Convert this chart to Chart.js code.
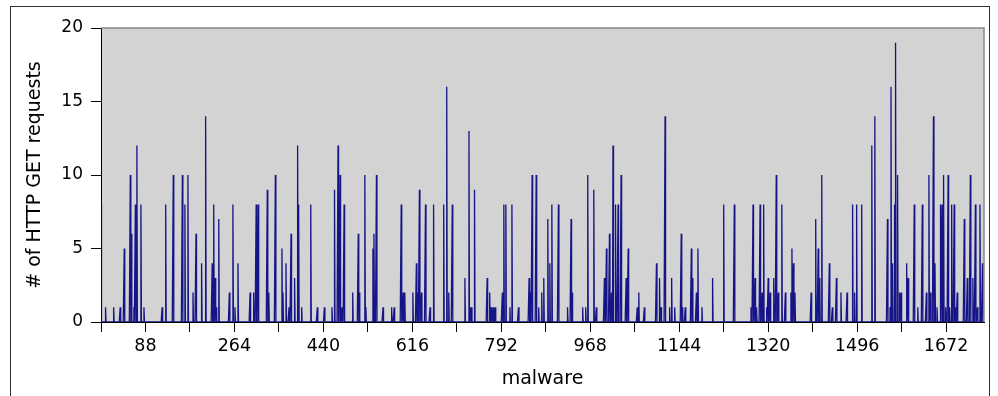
<!DOCTYPE html>
<html>
<head>
<meta charset="utf-8">
<script src="https://cdn.jsdelivr.net/npm/chart.js@4/dist/chart.umd.min.js"></script>
<style>
html,body{margin:0;padding:0;background:#fff;}
#c{display:block;}
</style>
</head>
<body>
<canvas id="c" width="998" height="396"></canvas>
<script>
// number of malware samples (x runs 0 .. N-1)
const sampleCount = 1748;
// sparse spikes: sample index and # of HTTP GET requests (all others are 0)
const spikeIndex = [0,9,25,38,46,58,60,65,68,71,79,85,121,128,143,161,166,172,182,188,199,207,220,223,226,228,233,254,261,265,271,295,302,307,311,329,332,345,358,360,366,372,376,383,389,391,397,415,428,442,457,462,469,473,477,481,498,509,511,522,524,538,540,545,558,575,580,594,598,601,617,624,626,630,634,642,651,658,678,684,688,695,720,728,731,733,739,764,769,772,776,780,794,797,801,809,813,826,847,850,853,861,866,872,876,884,888,892,905,923,930,932,953,959,963,975,980,996,1000,1006,1010,1013,1018,1023,1029,1039,1043,1061,1064,1075,1099,1105,1108,1116,1125,1129,1135,1148,1150,1156,1168,1170,1178,1181,1189,1210,1232,1253,1286,1290,1294,1297,1304,1308,1311,1317,1320,1324,1331,1336,1340,1347,1354,1365,1367,1370,1373,1405,1414,1419,1422,1426,1441,1447,1455,1464,1476,1487,1491,1495,1505,1525,1531,1556,1561,1563,1566,1570,1572,1576,1580,1583,1594,1597,1609,1616,1625,1633,1638,1641,1647,1650,1654,1661,1664,1667,1671,1676,1679,1683,1688,1691,1694,1708,1714,1720,1725,1730,1734,1739,1744];
const spikeValue = [8,1,1,1,5,10,6,1,8,12,8,1,1,8,10,10,8,10,2,6,4,14,4,8,3,1,7,2,8,1,4,2,2,8,8,9,2,10,5,2,4,1,6,3,12,8,1,8,1,1,1,9,12,10,1,8,2,6,2,10,1,5,6,10,1,1,1,8,2,2,2,4,2,9,2,8,1,8,8,16,2,8,3,13,1,1,9,3,2,1,1,1,2,8,8,1,8,1,3,2,10,10,1,2,3,7,4,8,8,1,7,2,1,1,10,9,1,3,5,6,2,12,8,8,10,3,5,1,2,1,4,3,1,14,1,3,1,6,1,1,5,3,2,5,1,3,8,8,1,8,3,1,8,2,8,1,3,2,3,10,2,8,2,2,5,4,2,2,7,5,3,10,4,1,3,2,2,8,2,8,8,12,14,7,1,16,4,8,19,10,2,2,4,3,8,1,8,2,10,2,14,4,1,8,8,10,1,10,1,8,8,1,2,7,3,10,3,8,1,8,4];
// axis settings
const xTickStep = 88;
const yTicks = [0,5,10,15,20];
const xTitle = 'malware';
const yTitle = '# of HTTP GET requests';

const points = [];
const vals = new Array(sampleCount).fill(0);
spikeIndex.forEach((ix, k) => { vals[ix] = spikeValue[k]; });
vals.forEach((v, i) => points.push({x: i, y: v}));

const bgPlugin = {
  id: 'bg',
  beforeDraw(chart) {
    const {ctx, chartArea: a} = chart;
    ctx.save();
    ctx.fillStyle = '#fff';
    ctx.fillRect(0, 0, chart.width, chart.height);
    ctx.strokeStyle = '#333';
    ctx.lineWidth = 1;
    ctx.strokeRect(10.5, 6.5, 979, 400);
    ctx.fillStyle = '#d3d3d3';
    ctx.fillRect(a.left, a.top, a.right - a.left, a.bottom - a.top);
    ctx.restore();
  },
  afterDraw(chart) {
    const {ctx, chartArea: a} = chart;
    ctx.save();
    ctx.strokeStyle = '#888';
    ctx.lineWidth = 1.5;
    ctx.beginPath();
    ctx.moveTo(a.left, a.top);
    ctx.lineTo(a.right, a.top);
    ctx.lineTo(a.right, a.bottom);
    ctx.stroke();
    ctx.restore();
  }
};

new Chart(document.getElementById('c'), {
  type: 'line',
  data: {
    datasets: [{
      data: points,
      borderColor: 'rgba(0,0,128,0.9)',
      borderWidth: 1.3,
      pointRadius: 0,
      tension: 0,
      fill: false
    }]
  },
  options: {
    responsive: false,
    animation: false,
    devicePixelRatio: 1,
    layout: {padding: {left: 0, top: 28, right: 14, bottom: 0}},
    plugins: {legend: {display: false}, tooltip: {enabled: false}},
    scales: {
      x: {
        type: 'linear',
        min: 0,
        max: sampleCount - 1,
        afterFit(s) { s.height = 74; },
        afterBuildTicks(s) {
          const t = [];
          for (let v = 0; v < sampleCount; v += xTickStep) t.push({value: v});
          s.ticks = t;
        },
        ticks: {
          autoSkip: false,
          maxRotation: 0,
          color: '#000',
          padding: 4,
          font: {family: 'DejaVu Sans', size: 17.5},
          callback: (v) => (v % (2 * xTickStep) === xTickStep ? String(v) : '')
        },
        grid: {drawOnChartArea: false, tickLength: 10, color: '#000', tickColor: '#000'},
        border: {display: true, color: '#000', width: 1},
        title: {display: true, text: xTitle, color: '#000', font: {family: 'DejaVu Sans', size: 19}, padding: {top: 4, bottom: 6}}
      },
      y: {
        min: 0,
        max: 20,
        afterFit(s) { s.width = 101; },
        afterBuildTicks(s) { s.ticks = yTicks.map(v => ({value: v})); },
        ticks: {color: '#000', padding: 8, font: {family: 'DejaVu Sans', size: 17}},
        grid: {drawOnChartArea: false, tickLength: 10, color: '#000', tickColor: '#000'},
        border: {display: true, color: '#000', width: 1},
        title: {display: true, text: yTitle, color: '#000', font: {family: 'DejaVu Sans', size: 19}, padding: {top: 24, bottom: 4}}
      }
    }
  },
  plugins: [bgPlugin]
});
</script>
</body>
</html>
